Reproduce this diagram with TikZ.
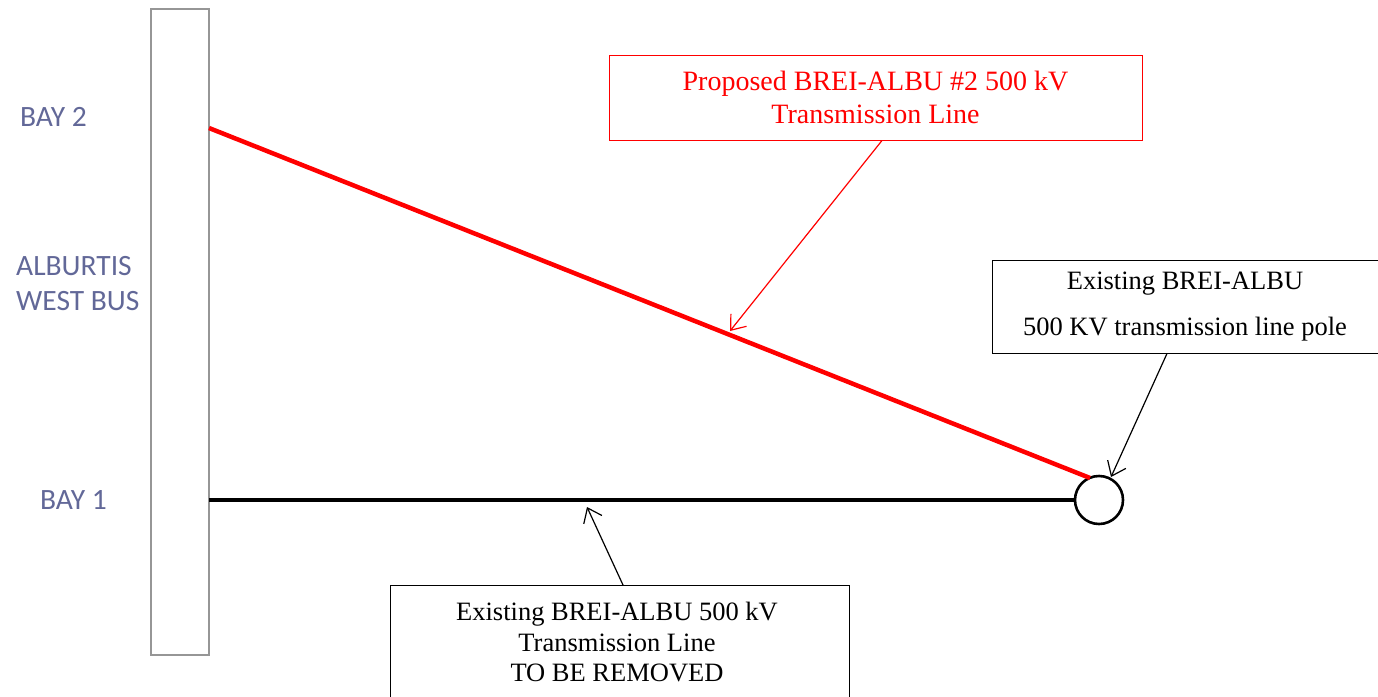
\documentclass[tikz,border=0pt]{standalone}
\usepackage{fontspec}
\setmainfont{Liberation Serif}
\newfontfamily\labelfont{Carlito}
\usetikzlibrary{arrows.meta}
\definecolor{busblue}{RGB}{98,104,152}
\definecolor{busgray}{RGB}{150,150,150}
\tikzset{
  buslabel/.style={font=\labelfont\fontsize{29.5}{35}\selectfont, text=busblue, align=left, inner sep=0pt},
  callout/.style={draw, line width=1pt, align=center, inner sep=0pt, font=\fontsize{26.5}{30.5}\selectfont},
  pointer/.style={line width=1.2pt, -{Straight Barb[length=13pt,width=20pt,line width=1.2pt]}},
}
\begin{document}
\begin{tikzpicture}[x=1pt,y=-1pt]
\useasboundingbox (0,0) rectangle (1378,696);
% bus bar
\node[draw=busgray, line width=1.6pt, minimum width=58pt, minimum height=646pt, inner sep=0pt] (bus) at (180,332) {};
\node[buslabel, anchor=west] (bay2) at (20,117) {BAY 2};
\node[buslabel, anchor=west] (alb) at (16,284) {ALBURTIS\\WEST BUS};
\node[buslabel, anchor=west] (bay1) at (40,500) {BAY 1};
% pole
\node[draw, circle, line width=2.6pt, minimum size=48pt, inner sep=0pt] (pole) at (1099,500) {};
\coordinate (b2) at (209,128);
\coordinate (b1) at (209,500);
\coordinate (redend) at (1090,478);
\draw[red, line width=4.5pt] (b2) -- (redend);
\draw[black, line width=4.8pt] (b1) -- (pole.west);
% callouts
\node[callout, draw=red, text=red, minimum width=533pt, minimum height=85pt, font=\fontsize{28}{33}\selectfont] (prop) at (875.5,97.5) {Proposed BREI-ALBU \#2 500 kV\\Transmission Line};
\node[callout, minimum width=386pt, minimum height=93pt, font=\fontsize{26.5}{46}\selectfont] (exist) at (1185,306.5) {Existing BREI-ALBU\\500 KV transmission line pole};
\node[callout, minimum width=459pt, minimum height=130pt, anchor=north west] (remove) at (390,585) {};
\node[font=\fontsize{26.5}{30.5}\selectfont, align=center, inner sep=0pt] (removetext) at (617,642) {Existing BREI-ALBU 500 kV\\Transmission Line\\TO BE REMOVED};
% pointers
\coordinate (redtip) at (730,331);
\coordinate (poletip) at (1111,477);
\coordinate (linetip) at (587,507);
\draw[pointer, red] (prop.south -| 882,0) -- (redtip);
\draw[pointer] (exist.south -| 1167,0) -- (poletip);
\draw[pointer] (remove.north -| 623,0) -- (linetip);
\end{tikzpicture}
\end{document}
